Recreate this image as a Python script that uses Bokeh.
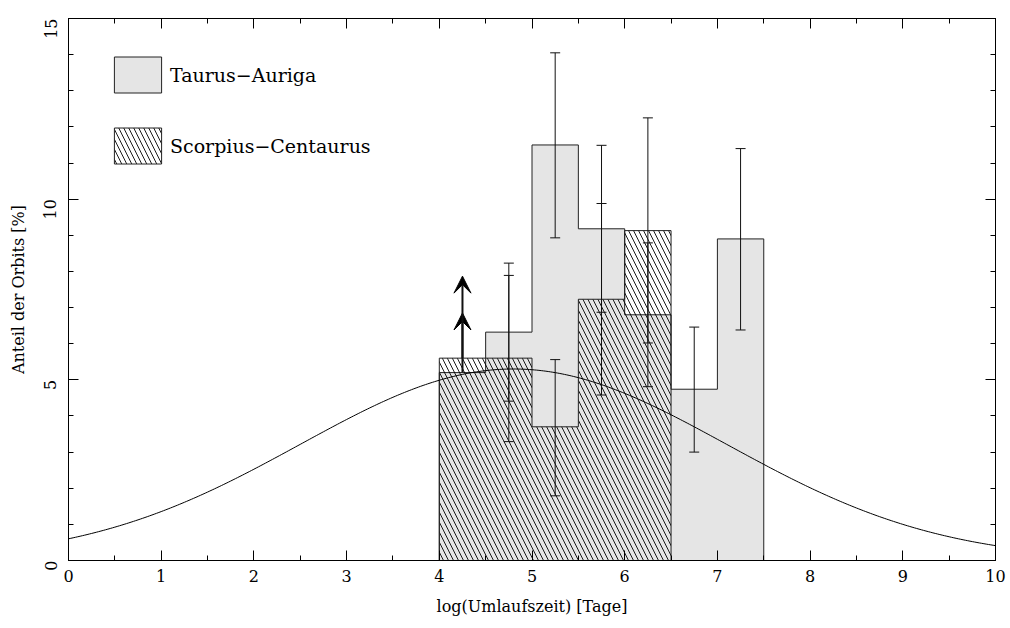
import numpy as np
from bokeh.plotting import figure
from bokeh.models import (Range1d, LinearAxis, SingleIntervalTicker, ColumnDataSource,
                          Whisker, TeeHead, Arrow, VeeHead, Legend, LegendItem,
                          CustomLabelingPolicy)
from bokeh.embed import file_html
from bokeh.resources import INLINE
import math

# ---- data ----
bin_left = [4.0, 4.5, 5.0, 5.5, 6.0, 6.5, 7.0]
bin_right = [4.5, 5.0, 5.5, 6.0, 6.5, 7.0, 7.5]
taurus = [5.2, 6.32, 11.5, 9.18, 6.8, 4.74, 8.9]
taurus_upper = [float("nan"), 8.23, 14.05, 11.49, 8.79, 6.46, 11.4]
taurus_lower = [float("nan"), 4.41, 8.93, 6.87, 4.81, 3.0, 6.38]

sco_left = [4.0, 4.5, 5.0, 5.5, 6.0]
sco_right = [4.5, 5.0, 5.5, 6.0, 6.5]
scorpius = [5.6, 5.6, 3.7, 7.23, 9.13]
sco_upper = [float("nan"), 7.89, 5.56, 9.88, 12.25]
sco_lower = [float("nan"), 3.29, 1.79, 4.58, 6.02]

# lower limits (arrows) for first bin
limit_x = [4.25, 4.25]
limit_from = [5.2, 5.6]
limit_to = [6.85, 7.87]

# Duquennoy & Mayor log-normal model
GAUSS_MEAN = 4.8
GAUSS_SIGMA = 2.3
GAUSS_PEAK = 5.3

x_label = "log(Umlaufszeit) [Tage]"
y_label = "Anteil der Orbits [%]"
series_names = ["Taurus\u2212Auriga", "Scorpius\u2212Centaurus"]

FONT = "DejaVu Serif"
GRAY = "#e5e5e5"
EDGE = "#222222"
HATCH = dict(hatch_pattern="\\", hatch_color="black", hatch_weight=0.9, hatch_scale=10)

p = figure(width=1010, height=628, output_backend="svg", toolbar_location=None,
           x_range=Range1d(0, 10), y_range=Range1d(0, 15),
           x_axis_type=None, y_axis_type=None,
           min_border_left=68, min_border_right=13, min_border_top=18, min_border_bottom=68)
p.grid.visible = False
p.outline_line_color = "black"
p.outline_line_width = 1
p.background_fill_color = "white"
p.border_fill_color = "white"

hide_all = CustomLabelingPolicy(code="return new Set()")

def make_axis(ticker, labels=True, label_text=None):
    ax = LinearAxis(ticker=ticker)
    ax.major_tick_in = 10
    ax.major_tick_out = 0
    ax.minor_tick_in = 5
    ax.minor_tick_out = 0
    ax.axis_line_color = "black"
    ax.major_tick_line_color = "black"
    ax.minor_tick_line_color = "black"
    if labels:
        ax.major_label_text_font = FONT
        ax.major_label_text_font_size = "16px"
        ax.major_label_text_color = "black"
        ax.major_label_standoff = 9
        if label_text:
            ax.axis_label = label_text
            ax.axis_label_text_font = FONT
            ax.axis_label_text_font_size = "16px"
            ax.axis_label_text_font_style = "normal"
            ax.axis_label_text_color = "black"
            ax.axis_label_standoff = 12
    else:
        ax.major_label_policy = hide_all
        ax.major_label_standoff = 0
    return ax

xt = lambda: SingleIntervalTicker(interval=1, num_minor_ticks=2)
yt = lambda: SingleIntervalTicker(interval=5, num_minor_ticks=5)

xb = make_axis(xt(), True, x_label)
yl = make_axis(yt(), True, y_label)
yl.major_label_orientation = math.pi / 2
yl.major_label_standoff = 18
yl.axis_label_standoff = 8
xa = make_axis(xt(), False)
yr = make_axis(yt(), False)
p.add_layout(xb, "below")
p.add_layout(yl, "left")
p.add_layout(xa, "above")
p.add_layout(yr, "right")

def step_outline(lefts, rights, tops):
    xs, ys = [lefts[0]], [0.0]
    for l, r, t in zip(lefts, rights, tops):
        xs += [l, r]
        ys += [t, t]
    xs.append(rights[-1])
    ys.append(0.0)
    return xs, ys

# Taurus gray histogram as one step polygon
tx, ty = step_outline(bin_left, bin_right, taurus)
r_tau = p.patch(tx, ty, fill_color=GRAY, line_color=EDGE, line_width=1)

# Scorpius hatched histogram as one step polygon
sx, sy = step_outline(sco_left, sco_right, scorpius)
r_sco = p.patch(sx, sy, fill_alpha=0, line_color=EDGE, line_width=1, **HATCH)

# error bars
tau_x = [(l + r) / 2 for l, r in zip(bin_left, bin_right)]
sco_x = [(l + r) / 2 for l, r in zip(sco_left, sco_right)]
err_src = ColumnDataSource(dict(x=tau_x[1:] + sco_x[1:],
                                upper=taurus_upper[1:] + sco_upper[1:],
                                lower=taurus_lower[1:] + sco_lower[1:]))
wh = Whisker(base="x", upper="upper", lower="lower", source=err_src, dimension="height",
             line_color="#111111", line_width=1, level="overlay",
             upper_head=TeeHead(size=10, line_color="#111111", line_width=1),
             lower_head=TeeHead(size=10, line_color="#111111", line_width=1))
p.add_layout(wh)

# model curve
gx = np.linspace(0, 10, 401)
gy = GAUSS_PEAK * np.exp(-(gx - GAUSS_MEAN) ** 2 / (2 * GAUSS_SIGMA ** 2))
p.line(gx, gy, line_color="black", line_width=1)

# lower-limit arrows
arr_src = ColumnDataSource(dict(x0=limit_x, y0=limit_from, x1=limit_x, y1=limit_to))
p.add_layout(Arrow(source=arr_src, x_start="x0", y_start="y0", x_end="x1", y_end="y1",
                   line_color="#111111", line_width=2, level="overlay",
                   end=VeeHead(size=17, fill_color="black", line_color="black")))

leg = Legend(items=[LegendItem(label=series_names[0], renderers=[r_tau]),
                    LegendItem(label=series_names[1], renderers=[r_sco])],
             location=(40, 392), orientation="vertical",
             glyph_width=59, glyph_height=45, label_height=45, spacing=26,
             label_standoff=3, padding=0, margin=0,
             border_line_alpha=0, background_fill_alpha=0,
             label_text_font=FONT, label_text_font_size="19px", label_text_color="black")
p.add_layout(leg)

open("out.html", "w").write(file_html(p, INLINE))
